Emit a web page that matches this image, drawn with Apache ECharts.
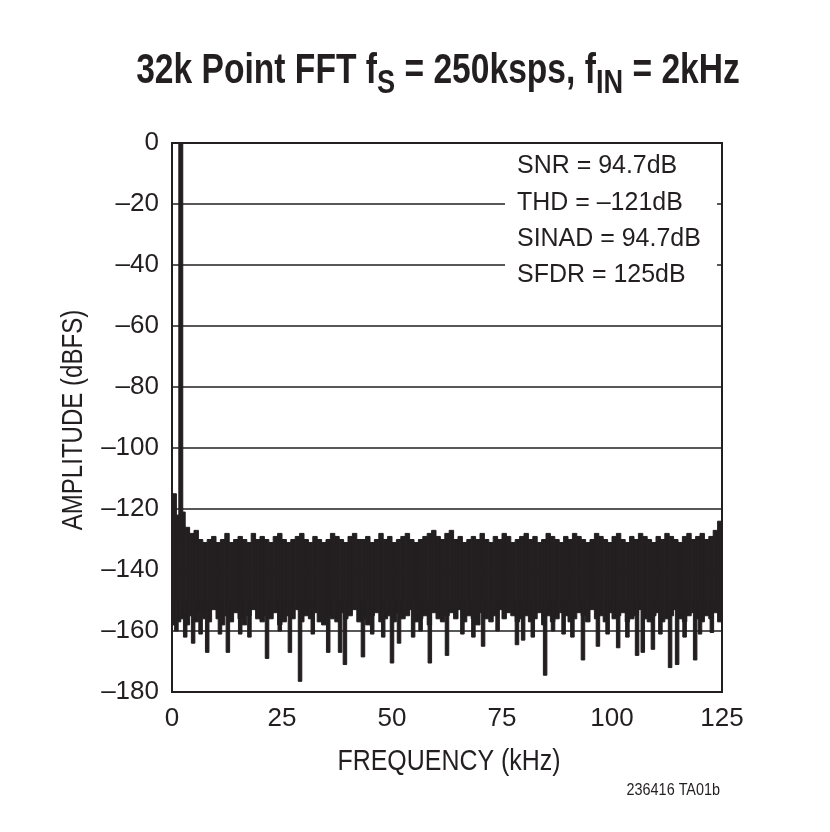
<!DOCTYPE html>
<html>
<head>
<meta charset="utf-8">
<script src="https://cdn.jsdelivr.net/npm/echarts@6/dist/echarts.min.js"></script>
<style>html,body{margin:0;padding:0;background:#fff}#c{width:830px;height:832px}</style>
</head>
<body>
<div id="c"></div>
<script>
// ---- data ----
const xTicks = [0, 25, 50, 75, 100, 125];
const yTicks = [0, -20, -40, -60, -80, -100, -120, -140, -160, -180];
// fundamental tone at 2 kHz
const fundamental = { f: 2, level: 0 };
// noise floor envelope, 1 kHz bins starting at 0 kHz (upper edge, dBFS)
const noiseTop = [
 -115,-122,-121,-126,-128,-127,-130,-131,-130,-129,
 -131,-130,-128,-131,-130,-129,-130,-131,-128,-130,
 -129,-130,-131,-129,-128,-130,-131,-130,-129,-128,
 -130,-131,-129,-130,-131,-130,-128,-129,-130,-131,
 -129,-128,-130,-130,-129,-131,-130,-128,-130,-129,
 -131,-130,-129,-128,-130,-131,-130,-129,-128,-127,
 -129,-130,-128,-127,-130,-129,-131,-130,-129,-130,
 -128,-130,-131,-129,-130,-128,-129,-131,-130,-129,
 -128,-130,-129,-131,-130,-128,-129,-130,-131,-129,
 -130,-128,-129,-130,-131,-130,-128,-129,-130,-131,
 -129,-128,-130,-131,-129,-130,-128,-129,-130,-131,
 -129,-130,-128,-129,-130,-131,-129,-128,-130,-129,
 -128,-130,-129,-127,-124];
// lower edge of the solid noise band (dBFS)
const noiseBottom = [
 -158,-157,-156,-158,-155,-157,-154,-156,-157,-153,
 -156,-158,-155,-157,-154,-156,-158,-155,-153,-156,
 -157,-155,-156,-154,-158,-157,-155,-156,-153,-157,
 -155,-156,-154,-157,-158,-155,-156,-157,-154,-156,
 -155,-153,-157,-156,-158,-155,-154,-157,-156,-155,
 -157,-154,-156,-155,-153,-157,-156,-155,-158,-154,
 -156,-157,-155,-154,-156,-153,-157,-155,-156,-158,
 -154,-156,-157,-155,-153,-156,-154,-155,-157,-156,
 -155,-157,-156,-154,-158,-155,-157,-156,-154,-155,
 -157,-156,-154,-155,-157,-153,-156,-155,-157,-154,
 -156,-155,-154,-157,-156,-155,-153,-156,-157,-155,
 -154,-157,-156,-155,-153,-156,-157,-155,-154,-156,
 -157,-155,-156,-154,-157];
// deep downward noise spikes: frequency (kHz)
const spikeFreq = [1.0,3.0,4.8,6.5,8.0,10.9,12.7,15.5,17.6,21.6,24.5,26.8,29.1,32.0,35.5,38.2,39.3,43.4,45.5,48.0,
 50.0,51.6,54.8,56.5,58.6,62.5,66.0,68.5,70.7,74.0,78.4,79.8,82.0,84.8,86.6,89.0,91.0,93.4,96.8,99.0,
 101.4,103.5,105.7,107.0,109.3,111.0,113.2,114.8,116.5,118.9,120.0,122.7];
// deep downward noise spikes: depth (dBFS)
const spikeLevel = [-160,-162,-164,-161,-167,-161,-167,-161,-162,-169,-160,-167,-176.5,-161,-167,-167,-171,-168.5,-161,-162,
 -170.5,-164,-162,-160,-170.5,-168,-161,-162,-165,-160,-164.5,-163,-162,-174.5,-160,-161,-162,-169.5,-165,-161,
 -165.5,-162,-168,-167,-166,-161,-172,-171,-162,-169.5,-161,-160.5];
const stats = ['SNR = 94.7dB', 'THD = \u2013121dB', 'SINAD = 94.7dB', 'SFDR = 125dB'];

// ---- build ----
const ink = '#231f20';
const rects = [];
noiseTop.forEach((t, i) => rects.push([i, i + 1, t, noiseBottom[i]]));
spikeFreq.forEach((f, i) => rects.push([f - 0.4, f + 0.4, -150, spikeLevel[i]]));
rects.push([fundamental.f - 0.45, fundamental.f + 0.45, fundamental.level, -130]);

const FONT = '"Liberation Sans", Arial, sans-serif';
const chart = echarts.init(document.getElementById('c'), null, { renderer: 'canvas' });
chart.setOption({
  animation: false,
  backgroundColor: '#fff',
  grid: { left: 172, top: 143, width: 550, height: 549, show: true, borderColor: ink, borderWidth: 2, containLabel: false },
  xAxis: {
    type: 'value', min: 0, max: 125, interval: 25,
    axisLine: { show: true, lineStyle: { color: ink, width: 2 } },
    axisTick: { show: false },
    splitLine: { show: false },
    axisLabel: { fontFamily: FONT, fontSize: 26, color: ink, margin: 14,
      formatter: v => xTicks.includes(v) ? String(v) : '' }
  },
  yAxis: {
    type: 'value', min: -180, max: 0, interval: 20,
    axisLine: { show: true, lineStyle: { color: ink, width: 2 } },
    axisTick: { show: false },
    splitLine: { show: true, lineStyle: { color: ink, width: 1.5 } },
    axisLabel: { fontFamily: FONT, fontSize: 26, color: ink, margin: 13,
      formatter: v => yTicks.includes(v) ? String(v).replace('-', '\u2013') : '' }
  },
  series: [{
    type: 'custom',
    data: rects,
    encode: { x: [0, 1], y: [2, 3] },
    clip: true,
    z: 5,
    renderItem: function (params, api) {
      const p0 = api.coord([api.value(0), api.value(2)]);
      const p1 = api.coord([api.value(1), api.value(3)]);
      return { type: 'rect', shape: { x: p0[0], y: p0[1], width: p1[0] - p0[0], height: p1[1] - p0[1] },
        style: { fill: ink, stroke: ink, lineWidth: 1 } };
    }
  }],
  graphic: [
    { type: 'text', x: 438, y: 67, scaleX: 0.80, z: 11,
      style: {
        text: '{a|32k Point FFT f}{s|S}{a| = 250ksps, f}{s|IN}{a| = 2kHz}',
        textAlign: 'center', textVerticalAlign: 'middle',
        rich: {
          a: { font: 'bold 42px "Liberation Sans", Arial, sans-serif', fill: ink, lineHeight: 50, verticalAlign: 'bottom' },
          s: { font: 'bold 34px "Liberation Sans", Arial, sans-serif', fill: ink, lineHeight: 50, verticalAlign: 'bottom', padding: [0, 0, -9, 0] }
        }
      } },
    { type: 'text', x: 449, y: 762, scaleX: 0.86, z: 11,
      style: { text: 'FREQUENCY (kHz)', font: '29px "Liberation Sans", Arial, sans-serif', fill: ink, textAlign: 'center', textVerticalAlign: 'middle' } },
    { type: 'text', x: 74, y: 420, rotation: Math.PI / 2, scaleX: 0.83, z: 11,
      style: { text: 'AMPLITUDE (dBFS)', font: '29px "Liberation Sans", Arial, sans-serif', fill: ink, textAlign: 'center', textVerticalAlign: 'middle' } },
    { type: 'rect', left: 505, top: 150, shape: { width: 212, height: 140 }, style: { fill: '#fff' }, z: 10 },
    ...stats.map((s, i) => ({ type: 'text', x: 517, y: [166, 203, 239, 275][i], scaleX: 0.96, z: 11,
      style: { text: s, font: '26px "Liberation Sans", Arial, sans-serif', fill: ink, textVerticalAlign: 'middle' } })),
    { type: 'text', x: 720, y: 791, scaleX: 0.9, z: 11, style: { text: '236416 TA01b', font: '16px "Liberation Sans", Arial, sans-serif', fill: ink, textAlign: 'right', textVerticalAlign: 'middle' } }
  ]
});
</script>
</body>
</html>
